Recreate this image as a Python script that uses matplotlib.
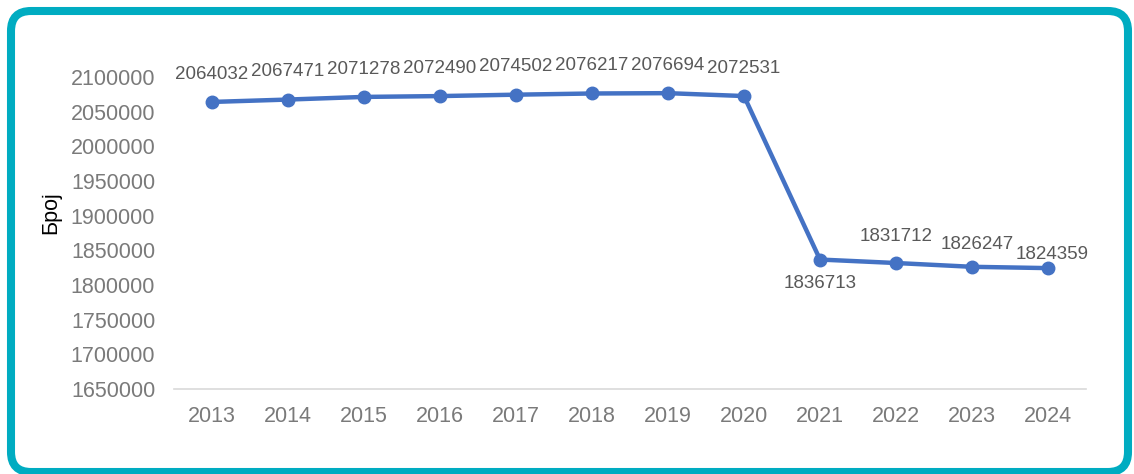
import matplotlib
matplotlib.use("Agg")
import matplotlib.pyplot as plt
from matplotlib.patches import FancyBboxPatch
from matplotlib.transforms import IdentityTransform

years = ["2013", "2014", "2015", "2016", "2017", "2018", "2019", "2020", "2021", "2022", "2023", "2024"]
values = [2064032, 2067471, 2071278, 2072490, 2074502, 2076217, 2076694, 2072531,
          1836713, 1831712, 1826247, 1824359]
y_ticks = list(range(1650000, 2100001, 50000))

# label offsets in points (dx, dy) - styling, not data
label_offsets = [(0, 20)] * 8 + [(0, -17), (0, 19), (4, 16), (3, 10)]

plt.rcParams['font.family'] = ['Liberation Sans', 'DejaVu Sans']

fig = plt.figure(figsize=(11.34, 4.74), dpi=100)
fig.patch.set_facecolor('white')

border = FancyBboxPatch((11, 2), 1117, 461, boxstyle="round,pad=0,rounding_size=20",
                        transform=IdentityTransform(), facecolor='none',
                        edgecolor='#00ACC1', linewidth=5.8, zorder=-1)
fig.patches.append(border)

ax = fig.add_axes([174/1134, 1-389/474, 912/1134, 312/474])
ax.set_facecolor('none')
x = list(range(len(years)))
ax.plot(x, values, color='#4472C4', linewidth=3.2, marker='o', markersize=9, zorder=3,
        solid_capstyle='round')
ax.set_xlim(-0.5, len(years) - 0.5)
ax.set_ylim(1650000, 2100000)
ax.set_yticks(y_ticks)
ax.set_yticklabels([str(t) for t in y_ticks])
ax.set_xticks(x)
ax.set_xticklabels(years)
for s in ['top', 'right', 'left']:
    ax.spines[s].set_visible(False)
ax.spines['bottom'].set_color('#D9D9D9')
ax.spines['bottom'].set_linewidth(1.2)
ax.tick_params(axis='both', length=0, labelsize=15.5, colors='#7A7A7A')
ax.tick_params(axis='y', pad=13.5)
ax.tick_params(axis='x', pad=12)

for xi, v, (dx, dy) in zip(x, values, label_offsets):
    ax.annotate(str(v), (xi, v), xytext=(dx, dy), textcoords='offset points',
                ha='center', va='center', fontsize=13.5, color='#595959')

ax.set_ylabel('Број', fontsize=15.5, color='black')
ax.yaxis.set_label_coords(-0.124, 0.565)

fig.savefig('out.png', dpi=100, facecolor='white')
